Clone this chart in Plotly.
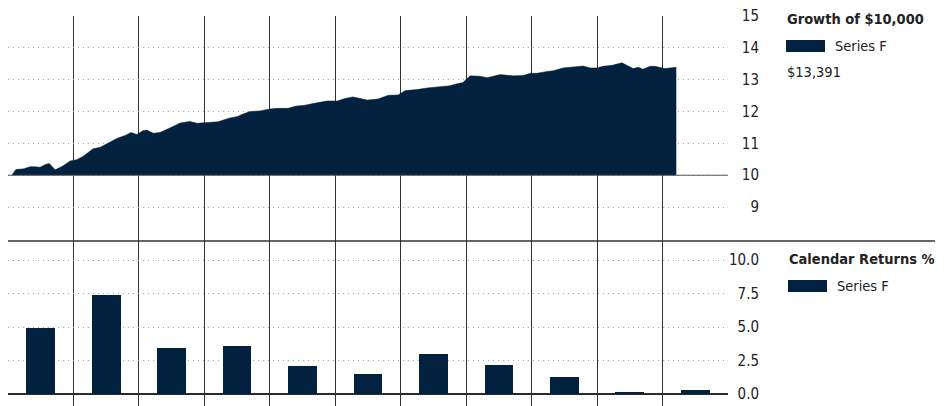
import plotly.graph_objects as go

# ---------------- data ----------------
# growth of $10,000 (thousands), time in years from start of period
growth_t = [0.06, 0.12, 0.24, 0.34, 0.41, 0.49, 0.57, 0.63, 0.72, 0.83, 0.95,
            1.05, 1.15, 1.30, 1.41, 1.56, 1.67, 1.79, 1.88, 1.97, 2.06, 2.12,
            2.22, 2.32, 2.45, 2.52, 2.63, 2.78, 2.89, 3.04, 3.21, 3.39, 3.50,
            3.59, 3.70, 3.85, 4.00, 4.11, 4.28, 4.39, 4.54, 4.66, 4.87, 5.03,
            5.15, 5.27, 5.49, 5.65, 5.81, 5.96, 6.07, 6.25, 6.40, 6.60, 6.75,
            6.86, 6.95, 7.06, 7.21, 7.32, 7.52, 7.72, 7.87, 7.98, 8.08, 8.24,
            8.33, 8.48, 8.63, 8.79, 8.89, 9.00, 9.09, 9.23, 9.38, 9.46, 9.55,
            9.63, 9.70, 9.81, 9.89, 9.96, 10.04, 10.21]
growth_v = [10.00, 10.18, 10.20, 10.27, 10.27, 10.25, 10.34, 10.37, 10.17, 10.28, 10.45,
            10.49, 10.60, 10.83, 10.88, 11.04, 11.16, 11.25, 11.34, 11.28, 11.40, 11.42,
            11.32, 11.34, 11.48, 11.53, 11.64, 11.69, 11.63, 11.66, 11.68, 11.80, 11.84,
            11.92, 12.00, 12.02, 12.08, 12.10, 12.10, 12.17, 12.20, 12.25, 12.33, 12.33,
            12.41, 12.46, 12.36, 12.39, 12.51, 12.52, 12.66, 12.69, 12.74, 12.78, 12.81,
            12.87, 12.91, 13.12, 13.11, 13.06, 13.16, 13.12, 13.13, 13.20, 13.20, 13.26,
            13.28, 13.37, 13.40, 13.43, 13.37, 13.37, 13.42, 13.45, 13.53, 13.45, 13.35,
            13.39, 13.33, 13.42, 13.42, 13.38, 13.35, 13.391]
growth_base = 10.0
final_value = 13391

year_mid = [0.5, 1.5, 2.5, 3.5, 4.5, 5.5, 6.5, 7.5, 8.5, 9.5, 10.5]
calendar_returns = [4.9, 7.4, 3.4, 3.6, 2.1, 1.5, 3.0, 2.2, 1.3, 0.15, 0.3]
year_bounds = [1, 2, 3, 4, 5, 6, 7, 8, 9, 10]

growth_ticks = [9, 10, 11, 12, 13, 14, 15]
return_ticks = [0.0, 2.5, 5.0, 7.5, 10.0]

series_name = "Series F"
NAVY = "#01213f"
FONT = "Liberation Sans Narrow, DejaVu Sans Condensed, Arial Narrow, sans-serif"
TXT = "#222222"

W, H = 947, 406
def px(x):
    return x / W
def py(y):
    return 1 - y / H

fig = go.Figure()

# baseline for area
fig.add_trace(go.Scatter(x=[growth_t[0], growth_t[-1]], y=[growth_base, growth_base],
                         mode="lines", line=dict(width=0, color=NAVY),
                         showlegend=False, hoverinfo="skip", xaxis="x", yaxis="y"))
fig.add_trace(go.Scatter(x=growth_t, y=growth_v, mode="lines", fill="tonexty",
                         fillcolor=NAVY, line=dict(width=0.5, color=NAVY),
                         name=series_name, showlegend=False, xaxis="x", yaxis="y"))

fig.add_trace(go.Bar(x=year_mid, y=calendar_returns, width=0.44, marker_color=NAVY,
                     marker_line_width=0, name=series_name, showlegend=False,
                     xaxis="x2", yaxis="y2"))

xdom = [px(8), px(728)]
top_dom = [py(241), py(16)]
bot_dom = [0, py(241)]

grid_common = dict(showgrid=True, gridcolor="#333333", gridwidth=1,
                   tickvals=year_bounds, showticklabels=False, ticks="",
                   zeroline=False, showline=False, range=[0, 11], automargin=False)

yaxis_common = dict(gridcolor="#a8a8a8", griddash="1px,4px", gridwidth=1,
                    showline=False, ticks="", anchor="free", position=px(759),
                    side="left", tickfont=dict(family=FONT, size=15, color=TXT),
                    ticklabelstandoff=0, automargin=False)

fig.update_layout(
    width=W, height=H,
    margin=dict(l=0, r=0, t=0, b=0, autoexpand=False),
    paper_bgcolor="white", plot_bgcolor="white",
    showlegend=False,
    bargap=0,
    xaxis=dict(domain=xdom, anchor="y", **grid_common),
    xaxis2=dict(domain=xdom, anchor="y2", **grid_common),
    yaxis=dict(domain=top_dom, range=[7.935, 15], tickvals=growth_ticks,
               ticktext=[str(v) for v in growth_ticks], zeroline=False, **yaxis_common),
    yaxis2=dict(domain=bot_dom, range=[-0.896, 11.418], tickvals=return_ticks,
                tickformat=".1f", zeroline=True, zerolinecolor="#2b2b2b",
                zerolinewidth=1.5, **yaxis_common),
)

# solid line at growth baseline
fig.add_shape(type="line", xref="x domain", yref="y", x0=0, x1=1,
              y0=growth_base, y1=growth_base, line=dict(color="#555555", width=1))
# separator line between panels
fig.add_shape(type="line", xref="paper", yref="paper", x0=px(8), x1=px(935),
              y0=py(241), y1=py(241), line=dict(color="#333333", width=1.5))

# legends
def label(x, y, text, bold=False):
    fig.add_annotation(xref="paper", yref="paper", x=px(x), y=py(y), xanchor="left",
                       yanchor="middle", showarrow=False,
                       text=f"<b>{text}</b>" if bold else text,
                       font=dict(family=FONT, size=14.5, color=TXT))

def swatch(x0, y0, x1, y1):
    fig.add_shape(type="rect", xref="paper", yref="paper", x0=px(x0), x1=px(x1),
                  y0=py(y1), y1=py(y0), fillcolor=NAVY, line=dict(width=0))

label(785, 19, "Growth of $10,000", bold=True)
swatch(786, 40, 825, 52)
label(833, 46, series_name)
label(785, 72, f"${final_value:,}")

label(787, 259, "Calendar Returns %", bold=True)
swatch(788, 280, 827, 292)
label(835, 286, series_name)

fig.write_html("out.html")
